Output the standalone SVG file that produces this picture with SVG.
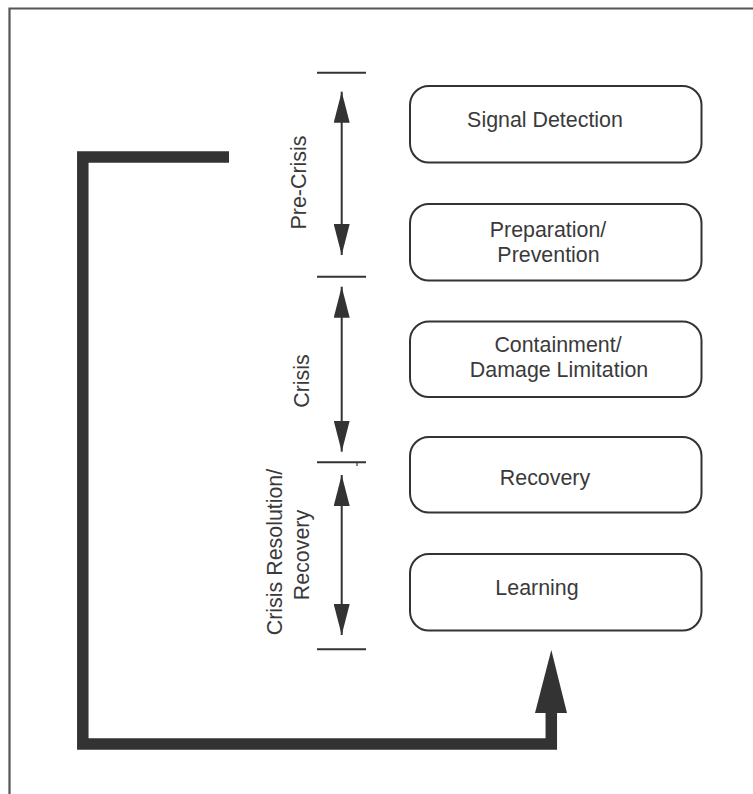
<svg xmlns="http://www.w3.org/2000/svg" width="753" height="794" viewBox="0 0 753 794">
  <style>
    .frame { fill: none; stroke: #555; stroke-width: 2.2; }
    .box { fill: #fff; stroke: #333; stroke-width: 2; }
    .label { font-family: "Liberation Sans", Arial, sans-serif; font-size: 21.4px; fill: #3a3a3a; text-anchor: middle; }
    .tick { stroke: #333; stroke-width: 2; }
    .span { stroke: #333; stroke-width: 2; marker-start: url(#headStart); marker-end: url(#headEnd); }
    .loop { fill: none; stroke: #333; stroke-width: 11.5; stroke-linejoin: miter; stroke-linecap: butt; }
  </style>
  <defs>
    <marker id="headEnd" viewBox="0 0 31 16" refX="31" refY="8" markerWidth="31" markerHeight="16" markerUnits="userSpaceOnUse" orient="auto">
      <path d="M0,0 L31,8 L0,16 Z" fill="#333"/>
    </marker>
    <marker id="headStart" viewBox="0 0 31 16" refX="0" refY="8" markerWidth="31" markerHeight="16" markerUnits="userSpaceOnUse" orient="auto">
      <path d="M31,0 L0,8 L31,16 Z" fill="#333"/>
    </marker>
  </defs>

  <rect width="753" height="794" fill="#fff"/>

  <!-- outer frame: top and left edges -->
  <path class="frame" d="M9.5,794 V8.5 H753"/>

  <!-- phase brackets -->
  <g id="phase-brackets">
    <line class="tick" x1="317" y1="72.7" x2="366" y2="72.7"/>
    <line class="tick" x1="317" y1="276.7" x2="366" y2="276.7"/>
    <line class="tick" x1="317" y1="462.3" x2="366" y2="462.3"/>
    <line x1="357" y1="462" x2="357" y2="466" stroke="#333" stroke-width="1.2"/>
    <line class="tick" x1="317" y1="649.3" x2="366" y2="649.3"/>

    <line class="span" x1="341.7" y1="91.7" x2="341.7" y2="255"/>
    <line class="span" x1="341.7" y1="286.7" x2="341.7" y2="451.7"/>
    <line class="span" x1="341.7" y1="475" x2="341.7" y2="635"/>
  </g>

  <g id="phase-pre-crisis">
    <text class="label" transform="translate(305.5,182.5) rotate(-90)">Pre-Crisis</text>
  </g>
  <g id="phase-crisis">
    <text class="label" transform="translate(308.5,381) rotate(-90)">Crisis</text>
  </g>
  <g id="phase-resolution">
    <text class="label" transform="translate(282,552) rotate(-90)">Crisis Resolution/</text>
    <text class="label" transform="translate(308.5,555) rotate(-90)">Recovery</text>
  </g>

  <!-- stage boxes -->
  <g id="signal-detection">
    <rect class="box" x="410" y="86" width="291.5" height="76.5" rx="19"/>
    <text class="label" x="545" y="126.7">Signal Detection</text>
  </g>
  <g id="preparation-prevention">
    <rect class="box" x="410" y="204" width="291.5" height="76.5" rx="19"/>
    <text class="label" x="548" y="236.5">Preparation/</text>
    <text class="label" x="548.5" y="262">Prevention</text>
  </g>
  <g id="containment">
    <rect class="box" x="410" y="321.5" width="291.5" height="75.5" rx="19"/>
    <text class="label" x="558" y="351.7">Containment/</text>
    <text class="label" x="559" y="377.3">Damage Limitation</text>
  </g>
  <g id="recovery">
    <rect class="box" x="410" y="437" width="291.5" height="75.5" rx="19"/>
    <text class="label" x="545" y="485">Recovery</text>
  </g>
  <g id="learning">
    <rect class="box" x="410" y="554" width="291.5" height="76.5" rx="19"/>
    <text class="label" x="537" y="595">Learning</text>
  </g>

  <!-- feedback loop -->
  <g id="connectors">
    <path class="loop" d="M229,157 H82.8 V744 H551.3 V712"/>
    <polygon points="551.3,650 535,713 567,713" fill="#333"/>
  </g>
</svg>
